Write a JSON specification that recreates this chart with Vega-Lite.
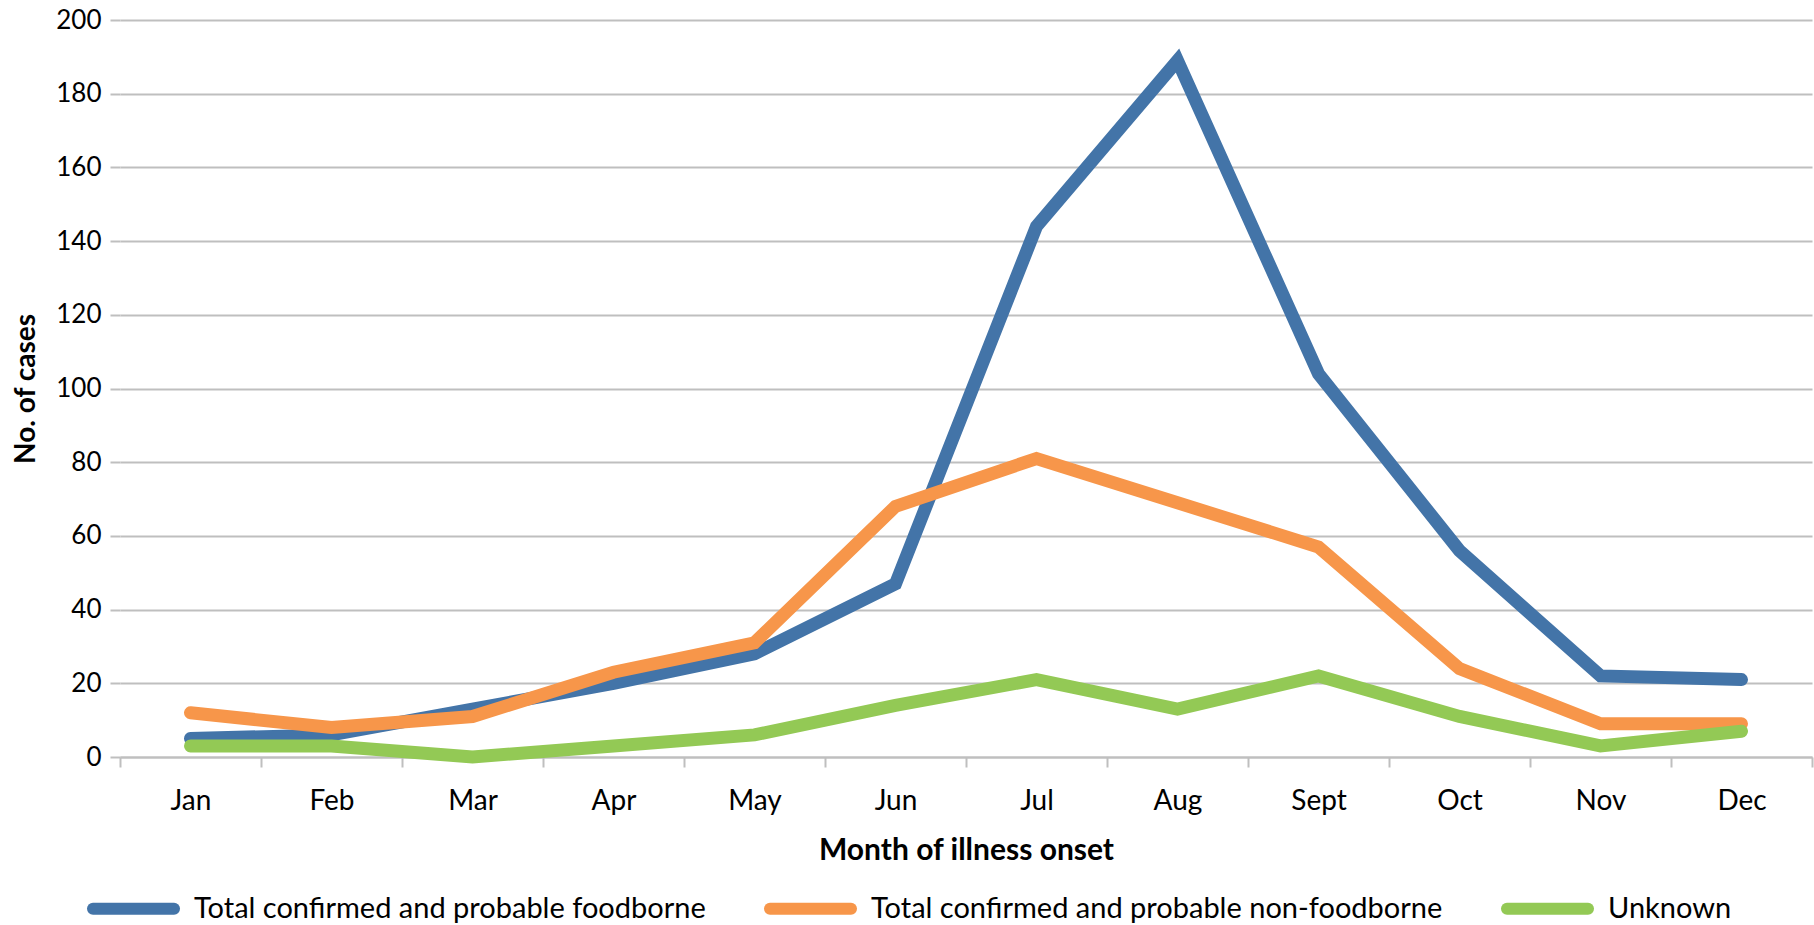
{
  "$schema": "https://vega.github.io/schema/vega-lite/v6.json",
  "autosize": {"type": "none"},
  "padding": {"left": 120, "top": 20, "right": 2, "bottom": 168},
  "width": 1692,
  "height": 737,
  "background": "white",
  "config": {"view": {"stroke": null}, "font": "Lato"},
  "data": {
    "values": [
      {"month": "Jan", "series": "Total confirmed and probable foodborne", "cases": 5},
      {"month": "Feb", "series": "Total confirmed and probable foodborne", "cases": 6},
      {"month": "Mar", "series": "Total confirmed and probable foodborne", "cases": 13},
      {"month": "Apr", "series": "Total confirmed and probable foodborne", "cases": 20},
      {"month": "May", "series": "Total confirmed and probable foodborne", "cases": 28},
      {"month": "Jun", "series": "Total confirmed and probable foodborne", "cases": 47},
      {"month": "Jul", "series": "Total confirmed and probable foodborne", "cases": 144},
      {"month": "Aug", "series": "Total confirmed and probable foodborne", "cases": 189},
      {"month": "Sept", "series": "Total confirmed and probable foodborne", "cases": 104},
      {"month": "Oct", "series": "Total confirmed and probable foodborne", "cases": 56},
      {"month": "Nov", "series": "Total confirmed and probable foodborne", "cases": 22},
      {"month": "Dec", "series": "Total confirmed and probable foodborne", "cases": 21},
      {"month": "Jan", "series": "Total confirmed and probable non-foodborne", "cases": 12},
      {"month": "Feb", "series": "Total confirmed and probable non-foodborne", "cases": 8},
      {"month": "Mar", "series": "Total confirmed and probable non-foodborne", "cases": 11},
      {"month": "Apr", "series": "Total confirmed and probable non-foodborne", "cases": 23},
      {"month": "May", "series": "Total confirmed and probable non-foodborne", "cases": 31},
      {"month": "Jun", "series": "Total confirmed and probable non-foodborne", "cases": 68},
      {"month": "Jul", "series": "Total confirmed and probable non-foodborne", "cases": 81},
      {"month": "Aug", "series": "Total confirmed and probable non-foodborne", "cases": 69},
      {"month": "Sept", "series": "Total confirmed and probable non-foodborne", "cases": 57},
      {"month": "Oct", "series": "Total confirmed and probable non-foodborne", "cases": 24},
      {"month": "Nov", "series": "Total confirmed and probable non-foodborne", "cases": 9},
      {"month": "Dec", "series": "Total confirmed and probable non-foodborne", "cases": 9},
      {"month": "Jan", "series": "Unknown", "cases": 3},
      {"month": "Feb", "series": "Unknown", "cases": 3},
      {"month": "Mar", "series": "Unknown", "cases": 0},
      {"month": "Apr", "series": "Unknown", "cases": 3},
      {"month": "May", "series": "Unknown", "cases": 6},
      {"month": "Jun", "series": "Unknown", "cases": 14},
      {"month": "Jul", "series": "Unknown", "cases": 21},
      {"month": "Aug", "series": "Unknown", "cases": 13},
      {"month": "Sept", "series": "Unknown", "cases": 22},
      {"month": "Oct", "series": "Unknown", "cases": 11},
      {"month": "Nov", "series": "Unknown", "cases": 3},
      {"month": "Dec", "series": "Unknown", "cases": 7}
    ]
  },
  "mark": {"type": "line", "strokeWidth": 13, "strokeCap": "round", "strokeJoin": "miter"},
  "encoding": {
    "x": {
      "field": "month",
      "type": "ordinal",
      "sort": ["Jan", "Feb", "Mar", "Apr", "May", "Jun", "Jul", "Aug", "Sept", "Oct", "Nov", "Dec"],
      "scale": {"type": "band", "paddingInner": 0, "paddingOuter": 0},
      "bandPosition": 0.5,
      "axis": {
        "title": "Month of illness onset",
        "tickBand": "extent",
        "grid": false,
        "domainColor": "#bfbfbf",
        "domainWidth": 2,
        "tickColor": "#bfbfbf",
        "tickWidth": 2,
        "tickSize": 10,
        "labelAngle": 0,
        "labelFontSize": 28,
        "labelColor": "black",
        "labelPadding": 20,
        "titleFontSize": 30,
        "titleFontWeight": "bold",
        "titleColor": "black",
        "titlePadding": 20
      }
    },
    "y": {
      "field": "cases",
      "type": "quantitative",
      "scale": {"domain": [0, 200], "nice": false},
      "axis": {
        "title": "No. of cases",
        "values": [0, 20, 40, 60, 80, 100, 120, 140, 160, 180, 200],
        "grid": true,
        "gridColor": "#bfbfbf",
        "gridWidth": 2,
        "domain": false,
        "tickColor": "#bfbfbf",
        "tickWidth": 2,
        "tickSize": 10,
        "labelFontSize": 26,
        "labelColor": "black",
        "labelPadding": 9,
        "titleFontSize": 28,
        "titleFontWeight": "bold",
        "titleColor": "black",
        "titlePadding": 15
      }
    },
    "color": {
      "field": "series",
      "type": "nominal",
      "scale": {
        "domain": ["Total confirmed and probable foodborne", "Total confirmed and probable non-foodborne", "Unknown"],
        "range": ["#4374a8", "#f7964a", "#93c955"]
      },
      "legend": {
        "title": null,
        "orient": "none",
        "direction": "horizontal",
        "legendX": -33,
        "legendY": 842,
        "symbolType": "stroke",
        "symbolSize": 6561,
        "symbolStrokeWidth": 12,
        "labelFontSize": 29,
        "labelColor": "black",
        "labelOffset": 14,
        "columnPadding": 40,
        "labelLimit": 1000,
        "encode": {"symbols": {"update": {"strokeCap": {"value": "round"}}}}
      }
    }
  }
}
